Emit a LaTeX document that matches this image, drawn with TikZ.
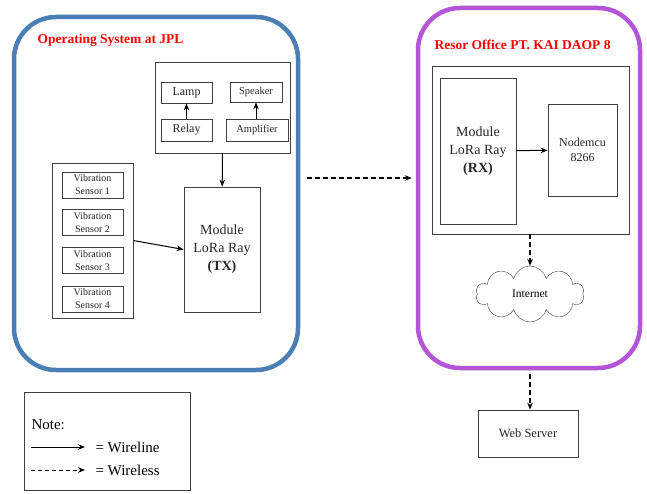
\documentclass[tikz,border=0pt]{standalone}
\usepackage{fontspec}
\setmainfont{Liberation Serif}
\usetikzlibrary{shapes.symbols,arrows.meta}
\definecolor{jplblue}{HTML}{4A7EB5}
\definecolor{daoppurple}{HTML}{B455D8}
\tikzset{
  box/.style={draw=black!75,line width=0.7pt,inner sep=0pt,align=center,text=black!85},
  frame/.style={draw,line width=4.5pt,rounded corners=42pt,inner sep=0pt},
  wline/.style={->,line width=1pt},
  wless/.style={->,line width=1.3pt,dash pattern=on 5pt off 3pt},
  ttl/.style={text=red,font=\bfseries\fontsize{13.5}{15}\selectfont,anchor=west}
}
\begin{document}
\begin{tikzpicture}[x=1pt,y=-1pt,>={Stealth[length=7pt,width=5.5pt]},font=\fontsize{10}{11}\selectfont]
\useasboundingbox (0,0) rectangle (647,494);
% frames
\node[frame,draw=jplblue,minimum width=284pt,minimum height=353pt] (jpl) at (156,193.5) {};
\node[frame,draw=daoppurple,minimum width=222pt,minimum height=360pt] (office) at (529,188) {};
\node[ttl] (jpltitle) at (34,40) {Operating System at JPL};
\node[ttl] (officetitle) at (431,45) {Resor Office PT. KAI DAOP 8};
% output side
\node[box,minimum width=135pt,minimum height=91pt] (out) at (222.5,107.5) {};
\node[box,minimum width=51pt,minimum height=21pt,font=\fontsize{12}{13}\selectfont] (lamp) at (186.5,92.5) {Lamp};
\node[box,minimum width=52pt,minimum height=20pt,font=\fontsize{10.5}{12}\selectfont] (speaker) at (256,92) {Speaker};
\node[box,minimum width=51pt,minimum height=22pt,font=\fontsize{12}{13}\selectfont] (relay) at (186.5,130) {Relay};
\node[box,minimum width=62pt,minimum height=22pt,font=\fontsize{10.5}{12}\selectfont] (amp) at (257,130) {Amplifier};
\draw[wline] (relay) -- (lamp);
\draw[wline] (amp.north -| speaker) -- (speaker);
% sensors
\node[box,minimum width=81pt,minimum height=155pt] (sens) at (92.5,240.5) {};
\foreach \i/\y in {1/185,2/222.5,3/260.5,4/299}
  \node[box,minimum width=61pt,minimum height=26pt,font=\fontsize{10}{13}\selectfont] (s\i) at (92.5,\y) {Vibration\\Sensor \i};
\node[box,minimum width=76pt,minimum height=125pt,font=\fontsize{14}{18}\selectfont] (tx) at (222,249.5) {Module\\LoRa Ray\\\textbf{(TX)}};
\draw[wline] (out) -- (tx);
\draw[wline] (sens.east) -- (tx.west);
% receiver side
\node[box,minimum width=197pt,minimum height=168pt] (rxbox) at (530.5,150) {};
\node[box,minimum width=76pt,minimum height=146pt,font=\fontsize{14}{18}\selectfont] (rx) at (478,151) {Module\\LoRa Ray\\\textbf{(RX)}};
\node[box,minimum width=69pt,minimum height=92pt,font=\fontsize{12}{15}\selectfont] (mcu) at (582.5,150) {Nodemcu\\8266};
\draw[wline] (rx) -- (mcu);
\node[cloud,draw=black!75,cloud puffs=10,aspect=2.2,minimum width=108pt,minimum height=56pt,inner sep=0pt,font=\fontsize{11.5}{13}\selectfont] (net) at (530,294) {Internet};
\draw[wless] (rxbox.south -| net) -- (net.north);
\node[box,minimum width=100pt,minimum height=47pt,font=\fontsize{12.5}{14}\selectfont] (web) at (528,433.5) {Web Server};
\draw[wless,shorten <=4pt] (office.south -| net) -- (web.north -| net);
\draw[wless] ([xshift=7,yshift=15.5]jpl.east) -- ([xshift=-4,yshift=15.5]jpl.east -| office.west);
% legend
\node[box,minimum width=166pt,minimum height=98pt] (note) at (107,441) {};
\node[anchor=west,font=\fontsize{15}{17}\selectfont] (notetxt) at (28,425) {Note:};
\coordinate (la) at (31,447); \coordinate (lb) at (85,447);
\coordinate (lc) at (31,470); \coordinate (ld) at (85,470);
\draw[wline] (la) -- (lb);
\draw[wless,line width=0.8pt,dash pattern=on 4pt off 3pt] (lc) -- (ld);
\node[anchor=west,font=\fontsize{15}{17}\selectfont] (wireline) at (92,447) {= Wireline};
\node[anchor=west,font=\fontsize{15}{17}\selectfont] (wireless) at (92,470) {= Wireless};
\end{tikzpicture}
\end{document}
